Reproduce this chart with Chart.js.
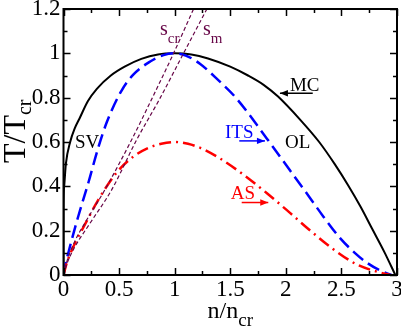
<!DOCTYPE html>
<html><head><meta charset="utf-8">
<script src="https://cdn.jsdelivr.net/npm/chart.js@4"></script>
<style>html,body{margin:0;padding:0;background:#fff}#wrap{width:401px;height:327px}</style>
</head><body><div id="wrap"><canvas id="c" width="401" height="327"></canvas></div>
<script>
// ---- data ----
const xTickValues = [0, 0.5, 1, 1.5, 2, 2.5, 3];
const xTickLabels = ['0', '0.5', '1', '1.5', '2', '2.5', '3'];
const yTickValues = [0, 0.2, 0.4, 0.6, 0.8, 1, 1.2];
const yTickLabels = ['0', '0.2', '0.4', '0.6', '0.8', '1', '1.2'];
const xMinorValues = [0.25, 0.75, 1.25, 1.75, 2.25, 2.75];
const yMinorValues = [0.1, 0.3, 0.5, 0.7, 0.9, 1.1];

// MC (black solid)
const mcN = [0, 0.001, 0.006, 0.021, 0.06, 0.1, 0.143, 0.22, 0.3, 0.426, 0.55, 0.7, 0.85, 1.0, 1.15, 1.3, 1.5, 1.66, 1.8, 1.93, 2.13, 2.3, 2.44, 2.56, 2.67, 2.78, 2.89, 2.985];
const mcT = [0, 0.3, 0.4, 0.5, 0.6, 0.66, 0.705, 0.785, 0.84, 0.9, 0.94, 0.975, 0.995, 1.0, 0.995, 0.977, 0.94, 0.9, 0.858, 0.805, 0.7, 0.6, 0.5, 0.405, 0.31, 0.205, 0.1, 0];
// ITS (blue dashed)
const itsN = [0, 0.013, 0.058, 0.133, 0.223, 0.31, 0.39, 0.52, 0.63, 0.78, 0.9, 1.0, 1.1, 1.23, 1.39, 1.55, 1.83, 2.04, 2.2, 2.34, 2.49, 2.62, 2.73, 2.85, 2.95];
const itsT = [0, 0.037, 0.128, 0.265, 0.415, 0.57, 0.69, 0.83, 0.905, 0.963, 0.992, 1.0, 0.99, 0.952, 0.88, 0.8, 0.615, 0.47, 0.36, 0.262, 0.165, 0.1, 0.055, 0.02, 0];
// AS (red dash-dot)
const asN = [0, 0.029, 0.103, 0.193, 0.313, 0.478, 0.628, 0.75, 0.88, 1.0, 1.12, 1.26, 1.41, 1.62, 1.83, 2.04, 2.22, 2.43, 2.64, 2.82, 2.94];
const asT = [0, 0.053, 0.143, 0.228, 0.339, 0.462, 0.534, 0.57, 0.592, 0.6, 0.592, 0.567, 0.525, 0.452, 0.369, 0.279, 0.2, 0.115, 0.047, 0.015, 0];
// s_cr and s_m (maroon short dashes)
const scrN = [0, 0.03, 0.1, 0.193, 0.373, 0.613, 0.79, 0.99, 1.17];
const scrT = [0, 0.06, 0.15, 0.235, 0.385, 0.61, 0.79, 1.0, 1.2];
const smN = [0, 0.03, 0.1, 0.238, 0.433, 0.658, 0.86, 1.08, 1.29];
const smT = [0, 0.05, 0.125, 0.233, 0.384, 0.61, 0.79, 1.0, 1.2];

const SERIF = '"Liberation Serif","Times New Roman",serif';
const MAROON = '#670748';
const pts = (xs, ys) => xs.map((x, i) => ({x: x, y: ys[i]}));
const line = (data, color, width, dash) => ({
  data: data, showLine: true, borderColor: color, backgroundColor: color,
  borderWidth: width, borderDash: dash, pointRadius: 0, pointHoverRadius: 0,
  cubicInterpolationMode: 'monotone', fill: false
});

function subText(ctx, base, sub, x, y, size, subSize, drop) {
  ctx.font = size + 'px ' + SERIF;
  ctx.fillText(base, x, y);
  const w = ctx.measureText(base).width;
  ctx.font = subSize + 'px ' + SERIF;
  ctx.fillText(sub, x + w, y + drop);
}
function subWidth(ctx, base, sub, size, subSize) {
  ctx.font = size + 'px ' + SERIF;
  const w = ctx.measureText(base).width;
  ctx.font = subSize + 'px ' + SERIF;
  return w + ctx.measureText(sub).width;
}
function arrow(ctx, x1, y1, x2, y2, color) {
  ctx.strokeStyle = color; ctx.fillStyle = color; ctx.lineWidth = 1.5;
  ctx.beginPath(); ctx.moveTo(x1, y1); ctx.lineTo(x2, y2); ctx.stroke();
  const dir = Math.sign(x2 - x1);
  ctx.beginPath();
  ctx.moveTo(x2, y2);
  ctx.lineTo(x2 - dir * 8, y2 - 3.2);
  ctx.lineTo(x2 - dir * 8, y2 + 3.2);
  ctx.closePath(); ctx.fill();
}

const decor = {
  id: 'decor',
  afterDraw(chart) {
    const ctx = chart.ctx, a = chart.chartArea, X = chart.scales.x, Y = chart.scales.y;
    const px = v => X.getPixelForValue(v), py = v => Y.getPixelForValue(v);
    ctx.save();
    // inner ticks
    ctx.strokeStyle = '#000'; ctx.lineWidth = 1.5;
    const xt = (vals, len) => vals.forEach(v => {
      const p = Math.round(px(v)) + 0.5;
      ctx.beginPath(); ctx.moveTo(p, a.bottom); ctx.lineTo(p, a.bottom - len);
      ctx.moveTo(p, a.top); ctx.lineTo(p, a.top + len); ctx.stroke();
    });
    const yt = (vals, len) => vals.forEach(v => {
      const p = Math.round(py(v)) + 0.5;
      ctx.beginPath(); ctx.moveTo(a.left, p); ctx.lineTo(a.left + len, p);
      ctx.moveTo(a.right, p); ctx.lineTo(a.right - len, p); ctx.stroke();
    });
    xt(xTickValues, 7); xt(xMinorValues, 4);
    yt(yTickValues, 7); yt(yMinorValues, 4);
    // frame
    ctx.lineWidth = 2;
    ctx.strokeRect(a.left, a.top, a.right - a.left, a.bottom - a.top);

    // annotations
    ctx.textAlign = 'left'; ctx.textBaseline = 'alphabetic';
    ctx.fillStyle = '#000';
    ctx.font = '19px ' + SERIF;
    ctx.fillText('SV', px(0.103), py(0.574));
    ctx.fillText('OL', px(1.992), py(0.574));
    ctx.fillText('MC', px(2.037), py(0.831));
    arrow(ctx, px(2.242), py(0.820), px(1.947), py(0.820), '#000');
    ctx.fillStyle = '#0000ff'; ctx.font = '19px ' + SERIF;
    ctx.fillText('ITS', px(1.453), py(0.619));
    arrow(ctx, px(1.581), py(0.605), px(1.812), py(0.605), '#0000ff');
    ctx.fillStyle = '#ff0000'; ctx.font = '19px ' + SERIF;
    ctx.fillText('AS', px(1.504), py(0.343));
    arrow(ctx, px(1.603), py(0.327), px(1.842), py(0.327), '#ff0000');
    ctx.fillStyle = MAROON;
    subText(ctx, 's', 'cr', px(0.868), py(1.084), 20, 15, 8);
    subText(ctx, 's', 'm', px(1.255), py(1.084), 20, 15, 8);

    // axis titles
    ctx.fillStyle = '#000';
    const wx = subWidth(ctx, 'n/n', 'cr', 24, 19);
    subText(ctx, 'n/n', 'cr', (a.left + a.right) / 2 - wx / 2, 318, 24, 19, 8);
    ctx.translate(25, 163);
    ctx.rotate(-Math.PI / 2);
    subText(ctx, 'T/T', 'cr', 0, 0, 32, 20, 6);
    ctx.restore();
  }
};

new Chart(document.getElementById('c'), {
  type: 'scatter',
  data: { datasets: [
    line(pts(scrN, scrT), MAROON, 1.2, [4, 2.5]),
    line(pts(smN, smT), MAROON, 1.2, [4, 2.5]),
    line(pts(asN, asT), '#ff0000', 2.5, [12, 5, 2, 5]),
    line(pts(itsN, itsT), '#0000ff', 2.5, [13, 6]),
    line(pts(mcN, mcT), '#000000', 2, [])
  ]},
  options: {
    responsive: false, animation: false, devicePixelRatio: 1,
    layout: { padding: { left: 0, top: 9, right: 4, bottom: 0 } },
    plugins: { legend: { display: false }, tooltip: { enabled: false } },
    events: [],
    scales: {
      x: {
        type: 'linear', position: 'bottom', min: 0, max: 3,
        grid: { display: false, drawTicks: false }, border: { display: false },
        afterBuildTicks: s => { s.ticks = xTickValues.map(v => ({ value: v })); },
        ticks: { font: { family: SERIF, size: 23 }, color: '#000', padding: 1, maxRotation: 0, autoSkip: false,
                 callback: (v, i) => xTickLabels[i] },
        afterFit: s => { s.height = 52; s.paddingLeft = 0; s.paddingRight = 0; s.paddingTop = 0; s.paddingBottom = 0; }
      },
      y: {
        type: 'linear', position: 'left', min: 0, max: 1.2,
        grid: { display: false, drawTicks: false }, border: { display: false },
        afterBuildTicks: s => { s.ticks = yTickValues.map(v => ({ value: v })); },
        ticks: { font: { family: SERIF, size: 23 }, color: '#000', padding: 3, autoSkip: false,
                 callback: (v, i) => yTickLabels[i] },
        afterFit: s => { s.width = 63.5; s.paddingLeft = 0; s.paddingRight = 0; s.paddingTop = 0; s.paddingBottom = 0; }
      }
    }
  },
  plugins: [decor]
});
</script></body></html>
